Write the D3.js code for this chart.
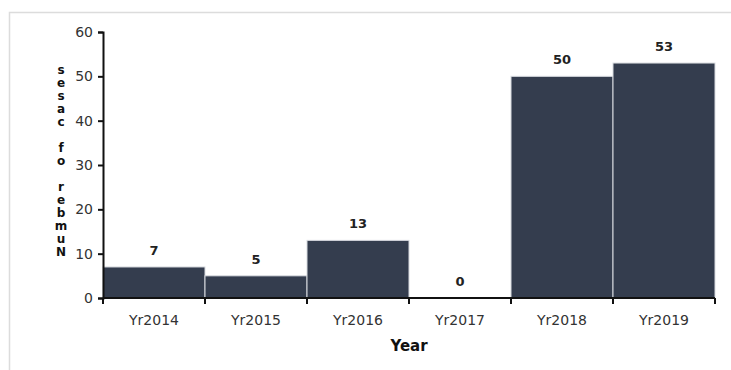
<!DOCTYPE html>
<html>
<head>
<meta charset="utf-8">
<script src="https://cdn.jsdelivr.net/npm/d3@7"></script>
<style>
  html, body { margin: 0; padding: 0; background: #fff; }
  svg { display: block; font-family: "DejaVu Sans", Verdana, sans-serif; }
</style>
</head>
<body>
<svg id="chart" width="731" height="370"></svg>
<script>
// Yearly case counts
const years = ["Yr2014", "Yr2015", "Yr2016", "Yr2017", "Yr2018", "Yr2019"];
const cases = [7, 5, 13, 0, 50, 53];
const yTicks = [0, 10, 20, 30, 40, 50, 60];
const xTitle = "Year";
const yTitle = "Number of cases";

const svg = d3.select("#chart");
const margin = { left: 103, right: 16, top: 32, bottom: 72 };
const W = 731, H = 370;

// outer frame
svg.append("rect")
  .attr("x", 9.5).attr("y", 12.5)
  .attr("width", 740).attr("height", 380)
  .attr("fill", "none").attr("stroke", "#dcdcdc").attr("stroke-width", 1.5);

const x = d3.scaleBand().domain(years)
  .range([margin.left, W - margin.right]).padding(0);
const y = d3.scaleLinear().domain([0, 60])
  .range([H - margin.bottom, margin.top]);

// bars
svg.append("g").selectAll("rect").data(cases).join("rect")
  .attr("x", (d, i) => x(years[i]))
  .attr("y", d => y(d))
  .attr("width", x.bandwidth())
  .attr("height", d => y(0) - y(d))
  .attr("fill", "#343d4e")
  .attr("stroke", "#d8dbe0").attr("stroke-width", 1);

// value labels
svg.append("g").selectAll("text").data(cases).join("text")
  .attr("x", (d, i) => x(years[i]) + x.bandwidth() / 2)
  .attr("y", d => y(d) - 12)
  .attr("text-anchor", "middle")
  .attr("font-size", 13).attr("font-weight", "bold")
  .attr("fill", "#222")
  .text(d => d);

// y axis
const yAxis = svg.append("g")
  .attr("transform", `translate(${margin.left},0)`)
  .call(d3.axisLeft(y).tickValues(yTicks).tickSize(5).tickPadding(5));
yAxis.select(".domain").attr("stroke", "#111").attr("stroke-width", 2);
yAxis.selectAll(".tick line").attr("stroke", "#111").attr("stroke-width", 2);
yAxis.selectAll(".tick text")
  .attr("font-size", 14).attr("fill", "#333")
  .attr("font-family", "DejaVu Sans, Verdana, sans-serif");

// x axis: line with ticks on the band boundaries
const xg = svg.append("g").attr("transform", `translate(0,${y(0)})`);
xg.append("line")
  .attr("x1", margin.left).attr("x2", W - margin.right)
  .attr("stroke", "#111").attr("stroke-width", 2);
const bounds = years.map(d => x(d)).concat([x(years[years.length - 1]) + x.bandwidth()]);
xg.selectAll("line.tk").data(bounds).join("line")
  .attr("class", "tk")
  .attr("x1", d => d).attr("x2", d => d)
  .attr("y1", 0).attr("y2", 6)
  .attr("stroke", "#111").attr("stroke-width", 2);
xg.selectAll("text").data(years).join("text")
  .attr("x", d => x(d) + x.bandwidth() / 2)
  .attr("y", 27)
  .attr("text-anchor", "middle")
  .attr("font-size", 14).attr("fill", "#333")
  .text(d => d);

// axis titles
svg.append("text")
  .attr("x", (margin.left + W - margin.right) / 2)
  .attr("y", 351)
  .attr("text-anchor", "middle")
  .attr("font-size", 15).attr("font-weight", "bold").attr("fill", "#111")
  .text(xTitle);

// y title: upright glyphs stacked from bottom to top
const chars = Array.from(yTitle);
const step = 13;
svg.append("g").selectAll("text").data(chars).join("text")
  .attr("x", 61)
  .attr("y", (d, i) => 256 - i * step)
  .attr("text-anchor", "middle")
  .attr("font-size", 12).attr("font-weight", "bold").attr("fill", "#111")
  .text(d => d);
</script>
</body>
</html>
